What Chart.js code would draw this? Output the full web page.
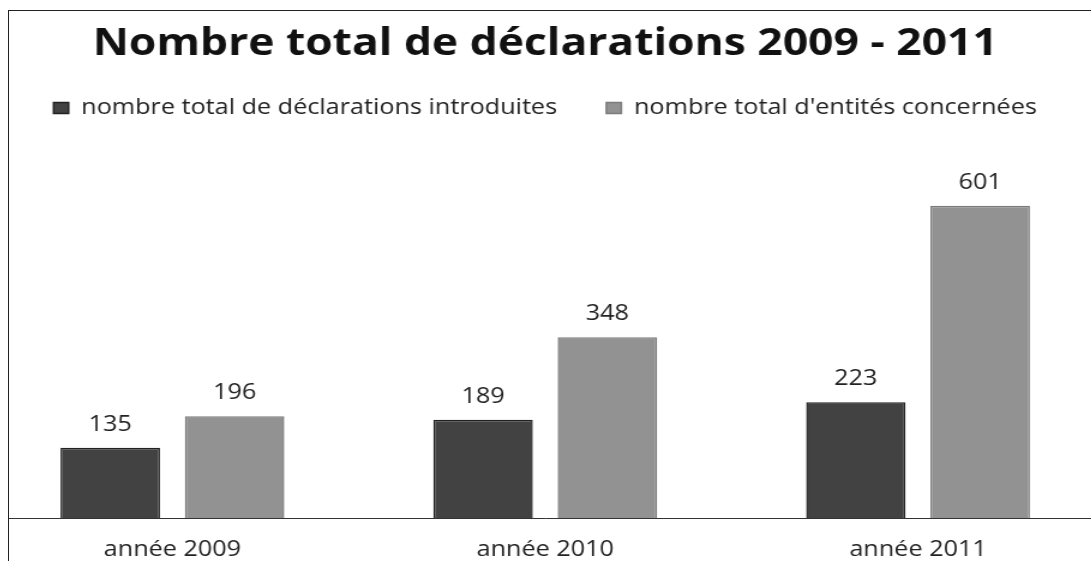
<!DOCTYPE html>
<html>
<head>
  <title>Nombre total de déclarations 2009 - 2011</title>
  <script src="https://cdn.jsdelivr.net/npm/chart.js"></script>
  <style>
    body {
      margin: 0;
      background: #fff;
      overflow: hidden;
      width: 1091px;
      height: 561px;
      position: relative;
    }
    /* the source picture is stretched sideways, so the chart is too */
    #wrap {
      position: absolute;
      left: -14px;
      top: 0;
      width: 932px;
      height: 561px;
      transform: scaleX(1.2);
      transform-origin: 0 0;
    }
    #frame {
      position: absolute;
      left: 8px;
      top: 10px;
      width: 1090px;
      height: 560px;
      border-left: 1.5px solid #222;
      border-top: 1.5px solid #222;
      pointer-events: none;
    }
    #margin {
      position: absolute;
      left: 0;
      top: 0;
      width: 8px;
      height: 561px;
      background: #fff;
    }
  </style>
</head>
<body>

<div id="wrap"><canvas id="chart"></canvas></div>
<div id="margin"></div>
<div id="frame"></div>

<script>
  const years = ['année 2009', 'année 2010', 'année 2011'];
  const declarations = [135, 189, 223];
  const entites = [196, 348, 601];
  const seriesNames = ['nombre total de déclarations introduites', "nombre total d'entités concernées"];

  const FONT = '"Open Sans"';

  // value labels above each bar
  const barLabels = {
    id: 'barLabels',
    afterDatasetsDraw(chart) {
      const ctx = chart.ctx;
      ctx.save();
      ctx.font = '21px ' + FONT;
      ctx.fillStyle = '#222';
      ctx.textAlign = 'center';
      ctx.textBaseline = 'middle';
      chart.data.datasets.forEach((ds, i) => {
        chart.getDatasetMeta(i).data.forEach((bar, j) => {
          ctx.fillText(ds.data[j], bar.x, bar.y - 23);
        });
      });
      ctx.restore();
    }
  };

  new Chart(document.getElementById('chart'), {
    type: 'bar',
    data: {
      labels: years,
      datasets: [{
        label: seriesNames[0],
        data: declarations,
        backgroundColor: '#424242',
        borderColor: '#222',
        borderWidth: 1.5
      }, {
        label: seriesNames[1],
        data: entites,
        backgroundColor: '#929292',
        borderColor: '#7c7c7c',
        borderWidth: 1.5
      }]
    },
    options: {
      responsive: true,
      maintainAspectRatio: false,
      animation: false,
      categoryPercentage: 0.667,
      barPercentage: 0.8,
      layout: { padding: { top: 10, bottom: 0, left: 0, right: 0 } },
      plugins: {
        title: {
          display: true,
          text: 'Nombre total de déclarations 2009 - 2011',
          color: '#111',
          font: { family: FONT, size: 37, weight: 'bold' },
          padding: { top: 12, bottom: -10 }
        },
        legend: {
          labels: {
            color: '#222',
            font: { family: FONT, size: 21 },
            boxWidth: 12.5,
            boxHeight: 11,
            padding: 41
          }
        },
        tooltip: { enabled: false }
      },
      scales: {
        x: {
          grid: { display: false, drawTicks: false },
          border: { display: true, color: '#333', width: 1 },
          ticks: {
            color: '#222',
            font: { family: FONT, size: 21 },
            padding: 19
          },
          afterFit(scale) { scale.height = 43; }
        },
        y: {
          display: false,
          beginAtZero: true,
          max: 750
        }
      }
    },
    plugins: [barLabels]
  });
</script>

</body>
</html>
